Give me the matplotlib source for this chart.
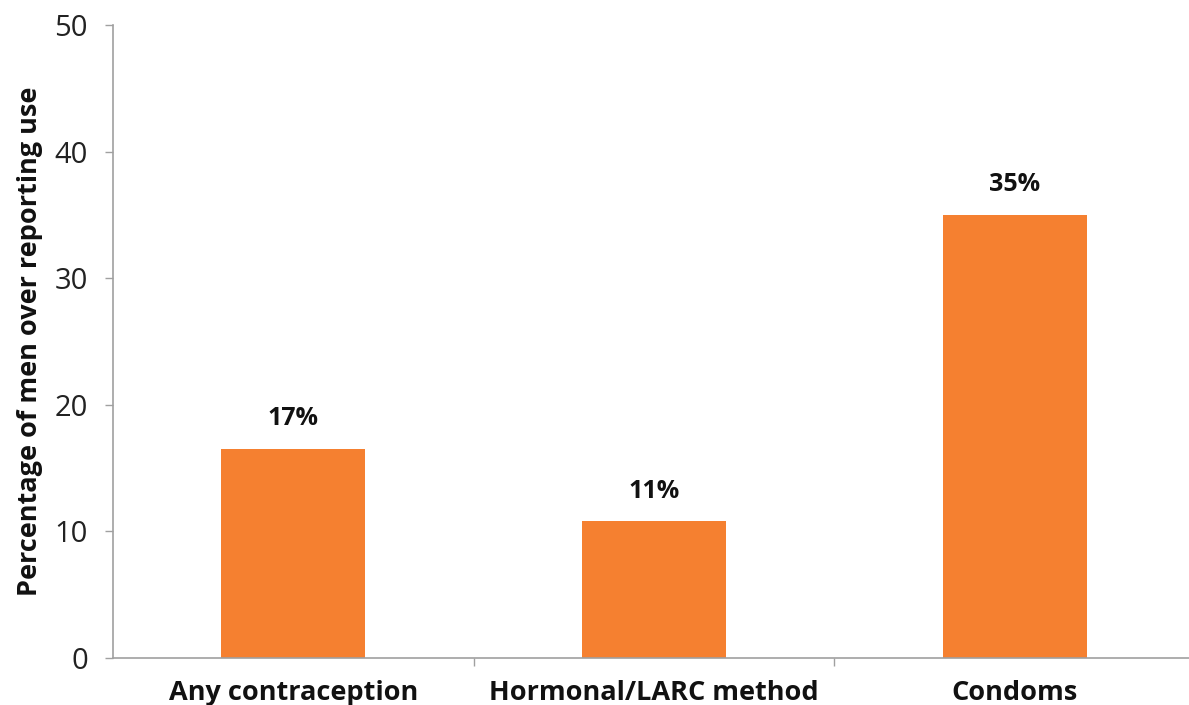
import matplotlib
matplotlib.use("Agg")
import matplotlib.pyplot as plt

# ── data ───────────────────────────────────────────────────────────────────────
categories = ["Any contraception", "Hormonal/LARC method", "Condoms"]
values     = [16.5, 10.8, 35.0]
labels     = ["17%", "11%", "35%"]

ORANGE = "#f58030"
AXIS   = "#a0a0a0"

plt.rcParams["font.family"] = ["Open Sans", "DejaVu Sans"]

fig = plt.figure(figsize=(11.89, 7.05), dpi=100)
ax = fig.add_axes([113 / 1189, 47 / 705, 1082 / 1189, 633 / 705])

x = list(range(len(categories)))
bars = ax.bar(x, values, width=0.4, color=ORANGE, zorder=2)

for bar, lab in zip(bars, labels):
    ax.text(bar.get_x() + bar.get_width() / 2, bar.get_height() + 1.4, lab,
            ha="center", va="bottom", fontsize=18, fontweight="bold", color="#111")

ax.set_xlim(-0.5, 2.5)
ax.set_ylim(0, 50)
ax.set_yticks([0, 10, 20, 30, 40, 50])
ax.tick_params(axis="y", labelsize=21, colors=AXIS, labelcolor="#222",
               length=6, width=1, pad=12)

# categories centred under bars, tick marks at the boundaries
ax.set_xticks([0.5, 1.5, 2.5])
ax.set_xticklabels([])
ax.set_xticks(x, minor=True)
ax.set_xticklabels(categories, minor=True, fontsize=19.5, fontweight="bold", color="#111")
ax.tick_params(axis="x", which="major", colors=AXIS, length=6, width=1)
ax.tick_params(axis="x", which="minor", length=0, pad=16)

ax.set_ylabel("Percentage of men over reporting use", fontsize=19.5,
              fontweight="bold", color="#111", labelpad=8)

for s in ["top", "right"]:
    ax.spines[s].set_visible(False)
for s in ["left", "bottom"]:
    ax.spines[s].set_color(AXIS)
    ax.spines[s].set_linewidth(1.2)

fig.savefig("out.png", dpi=100)
